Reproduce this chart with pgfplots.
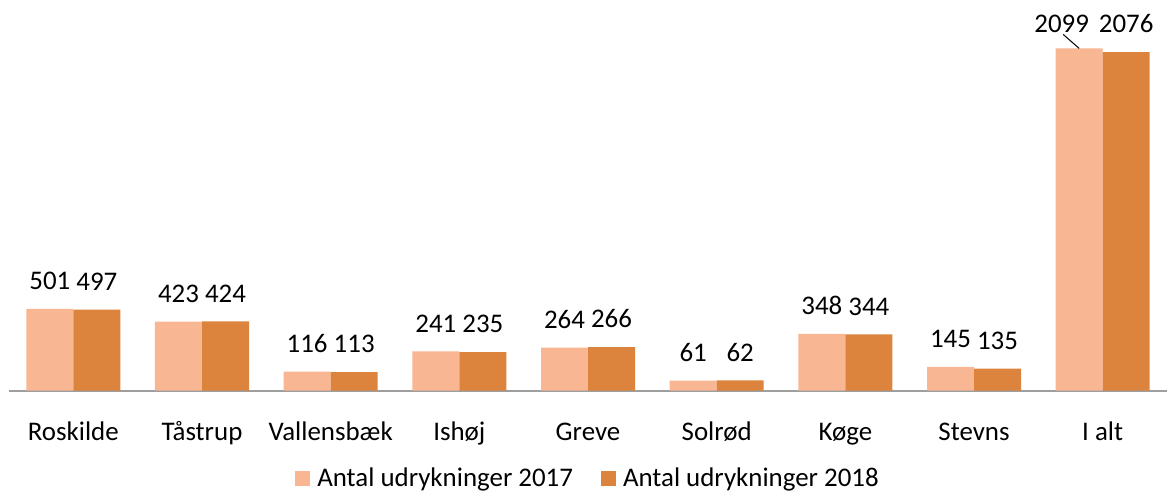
\documentclass[border=0pt]{standalone}
\usepackage{pgfplots}
\pgfplotsset{compat=1.18}
\usepackage{pgfplotstable}
\usepackage{fontspec}
\setmainfont{Carlito}
\definecolor{lightor}{HTML}{F8B692}
\definecolor{darkor}{HTML}{DC843D}
\pgfplotstableread{
x y17 y18 dx17 dy17
0 501 497 0 19
1 423 424 0 19
2 116 113 0 19
3 241 235 0 19
4 264 266 0 19
5 61 62 0 19
6 348 344 0 19
7 145 135 0 19
8 2099 2076 -17.5 15.5
}\data
\begin{document}
\begin{tikzpicture}
\begin{axis}[
  name=ax,
  scale only axis,
  width=1158bp, height=390.5bp,
  xmin=-0.5, xmax=8.5, ymin=0, ymax=2396,
  ybar=0pt, bar width=47bp,
  axis x line*=bottom,
  axis y line=none,
  axis line style={draw=black!38, line width=2bp},
  xtick={0,...,8},
  xticklabels={Roskilde,Tåstrup,Vallensbæk,Ishøj,Greve,Solrød,Køge,Stevns,I alt},
  major tick length=0pt,
  xticklabel style={anchor=base, yshift=-50bp},
  font=\fontsize{27}{32}\selectfont,
  clip=false,
  legend columns=2,
  legend style={draw=none, at={(0.5,-0.224)}, anchor=center,
    font=\fontsize{27}{32}\selectfont,
    /tikz/every odd column/.append style={column sep=5bp},
    /tikz/every even column/.append style={column sep=26bp}},
  legend image code/.code={\fill[#1] (0bp,-7.5bp) rectangle (15bp,7.5bp);},
]
\addplot[fill=lightor, draw=none,
  nodes near coords, point meta=explicit symbolic,
  visualization depends on={\thisrow{dx17} \as \mydx},
  visualization depends on={\thisrow{dy17} \as \mydy},
  nodes near coords style={anchor=south, inner sep=0pt, text=black, xshift=\mydx*1bp, yshift=\mydy*1bp}]
  table[x=x, y=y17, meta=y17] {\data};
\addplot[fill=darkor, draw=none,
  nodes near coords, point meta=explicit symbolic,
  nodes near coords style={anchor=south, inner sep=0pt, text=black, yshift=19bp}]
  table[x=x, y=y18, meta=y18] {\data};
\draw[black, line width=1bp] ([xshift=-23.5bp]axis cs:8,2099) -- ++(-16bp,14bp);
\legend{Antal udrykninger 2017, Antal udrykninger 2018}
\end{axis}
\pgfresetboundingbox
\path[use as bounding box] ([xshift=-9bp]ax.north west) rectangle ([yshift=-102.5bp]ax.south east);
\end{tikzpicture}
\end{document}
